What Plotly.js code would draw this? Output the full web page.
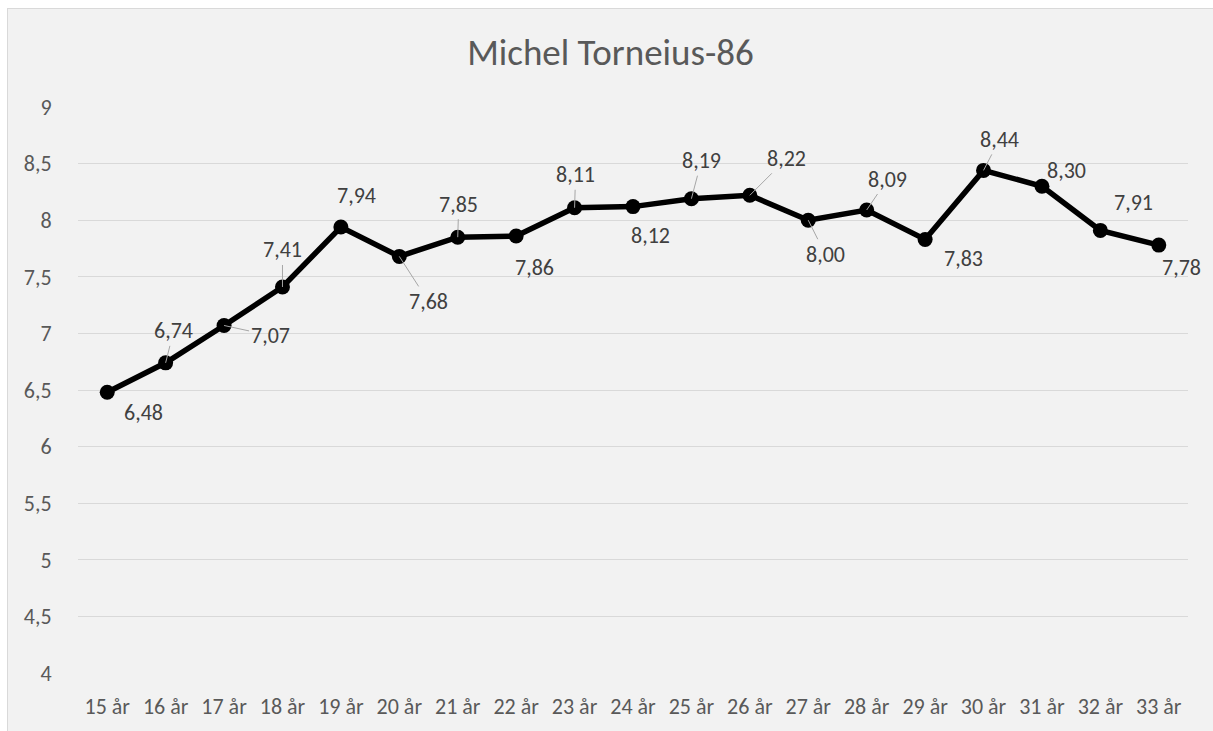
<!DOCTYPE html>
<html>
<head>
<meta charset="utf-8">
<script src="https://cdn.plot.ly/plotly-3.0.1.min.js"></script>
<style>
  html, body { margin: 0; padding: 0; background: #ffffff; overflow: hidden; width: 1213px; height: 731px; }
  #frame { position: absolute; left: 7px; top: 8px; width: 1220px; height: 740px; border: 1px solid #d9d9d9; background: #f2f2f2; }
  #chart { position: absolute; left: 0; top: 0; width: 1205px; height: 722px; }
</style>
</head>
<body>
<div id="frame"><div id="chart"></div></div>
<script>
// ---- data ----
const categories = ["15 år","16 år","17 år","18 år","19 år","20 år","21 år","22 år","23 år","24 år","25 år","26 år","27 år","28 år","29 år","30 år","31 år","32 år","33 år"];
const values = [6.48, 6.74, 7.07, 7.41, 7.94, 7.68, 7.85, 7.86, 8.11, 8.12, 8.19, 8.22, 8.00, 8.09, 7.83, 8.44, 8.30, 7.91, 7.78];
const yTicks = [4, 4.5, 5, 5.5, 6, 6.5, 7, 7.5, 8, 8.5, 9];
const chartTitle = "Michel Torneius-86";

// ---- label placement (pixel offsets of label centre from point; leader line flag) ----
const labelOffsets = [
  [36, 20, false], [8, -32, true], [46, 10, true], [0, -37, true], [16, -31, false],
  [29, 45, true], [1, -33, true], [18, 31, false], [1, -33, true], [17, 29, false],
  [10, -38, true], [37, -37, true], [17, 34, true], [21, -31, true], [38, 19, false],
  [16, -31, true], [25, -16, false], [33, -28, false], [23, 22, false]
];

const FONT = "Carlito, Calibri, Lato, 'Open Sans', sans-serif";

const trace = {
  type: "scatter",
  mode: "lines+markers",
  x: categories,
  y: values,
  line: { color: "#000000", width: 5.5 },
  marker: { color: "#000000", size: 15 },
  hoverinfo: "x+y",
  cliponaxis: false
};

const annotations = values.map((v, i) => ({
  x: categories[i],
  y: v,
  xref: "x",
  yref: "y",
  text: v.toFixed(2).replace(".", ","),
  showarrow: true,
  arrowhead: 0,
  arrowwidth: 1,
  arrowcolor: labelOffsets[i][2] ? "#a6a6a6" : "rgba(0,0,0,0)",
  standoff: 0,
  ax: labelOffsets[i][0],
  ay: labelOffsets[i][1],
  font: { family: FONT, size: 22, color: "#404040" }
}));

const layout = {
  width: 1205,
  height: 722,
  paper_bgcolor: "#f2f2f2",
  plot_bgcolor: "#f2f2f2",
  separators: ", ",
  margin: { l: 70, r: 25, t: 98, b: 58 },
  showlegend: false,
  font: { family: FONT, color: "#595959" },
  title: {
    text: chartTitle,
    font: { family: FONT, size: 37, color: "#595959" },
    x: 0.5,
    xanchor: "center",
    xref: "container",
    yref: "container",
    y: 1 - 43 / 722,
    yanchor: "middle"
  },
  xaxis: {
    type: "category",
    showgrid: false,
    zeroline: false,
    showline: false,
    ticks: "outside",
    ticklen: 14,
    tickcolor: "rgba(0,0,0,0)",
    tickfont: { family: FONT, size: 22, color: "#595959" },
    range: [-0.5, categories.length - 0.5],
    fixedrange: true
  },
  yaxis: {
    range: [4, 9],
    tickvals: yTicks,
    showgrid: true,
    gridcolor: "#d9d9d9",
    gridwidth: 1,
    zeroline: false,
    showline: false,
    ticks: "outside",
    ticklen: 21,
    tickcolor: "rgba(0,0,0,0)",
    tickfont: { family: FONT, size: 22, color: "#595959" },
    fixedrange: true
  },
  annotations: annotations
};

Plotly.newPlot("chart", [trace], layout, { displayModeBar: false, staticPlot: true });
</script>
</body>
</html>
